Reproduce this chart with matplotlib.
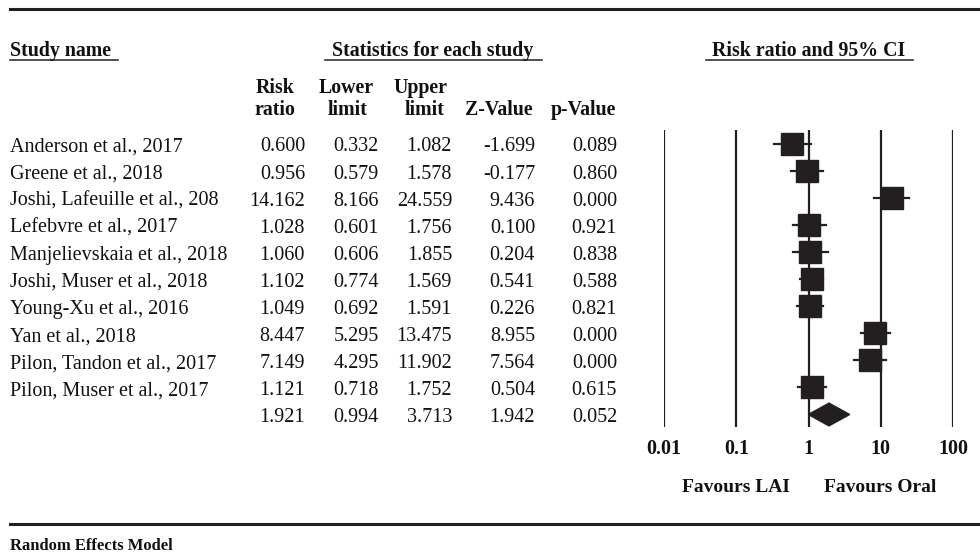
import numpy as np
import matplotlib
matplotlib.use("Agg")
import matplotlib.pyplot as plt
from matplotlib.patches import Polygon
from matplotlib.lines import Line2D

plt.rcParams['font.family'] = ['Liberation Serif', 'DejaVu Serif']

W, H = 980, 553
ink = '#231f20'

# Study data
studies = ["Anderson et al., 2017", "Greene et al., 2018", "Joshi, Lafeuille et al., 208",
           "Lefebvre et al., 2017", "Manjelievskaia et al., 2018", "Joshi, Muser et al., 2018",
           "Young-Xu et al., 2016", "Yan et al., 2018", "Pilon, Tandon et al., 2017",
           "Pilon, Muser et al., 2017"]
rr = [0.600, 0.956, 14.162, 1.028, 1.060, 1.102, 1.049, 8.447, 7.149, 1.121]
lower = [0.332, 0.579, 8.166, 0.601, 0.606, 0.774, 0.692, 5.295, 4.295, 0.718]
upper = [1.082, 1.578, 24.559, 1.756, 1.855, 1.569, 1.591, 13.475, 11.902, 1.752]
zval = [-1.699, -0.177, 9.436, 0.100, 0.204, 0.541, 0.226, 8.955, 7.564, 0.504]
pval = [0.089, 0.860, 0.000, 0.921, 0.838, 0.588, 0.821, 0.000, 0.000, 0.615]
box_size = [15.5, 15.5, 16, 15.5, 15.5, 15.5, 15.5, 15.5, 16, 15.5]

# pooled (random effects)
pooled = (1.921, 0.994, 3.713, 1.942, 0.052)

ticks = [0.01, 0.1, 1, 10, 100]
tick_labels = ["0.01", "0.1", "1", "10", "100"]

fig = plt.figure(figsize=(W / 100, H / 100), dpi=100)

def fx(x):
    return x / W

def fy(y):
    return 1 - y / H

def hline(x0, x1, y, lw):
    fig.add_artist(Line2D([fx(x0), fx(x1)], [fy(y), fy(y)], color=ink, lw=lw))

def txt(x, y, s, size, bold=False, ha='left'):
    fig.text(fx(x), fy(y), s, fontsize=size, fontweight='bold' if bold else 'normal',
             va='baseline', ha=ha, color='#111111')

# rules top / bottom
hline(10, 980, 9, 2.2)
hline(10, 980, 524, 2.2)

fs = 14.5
fb = 14.3
# header row
txt(10, 56, "Study name", fb, True)
hline(10, 118, 60, 1.1)
txt(433, 56, "Statistics for each study", fb, True, 'center')
hline(325, 542, 60, 1.1)
txt(809, 56, "Risk ratio and 95% CI", fb, True, 'center')
hline(706, 913, 60, 1.1)

# column headers
col_right = [305, 379, 452, 535, 617]
txt(275, 93, "Risk", fb, True, 'center')
txt(275, 115, "ratio", fb, True, 'center')
txt(346, 93, "Lower", fb, True, 'center')
txt(348, 115, "limit", fb, True, 'center')
txt(420, 93, "Upper", fb, True, 'center')
txt(425, 115, "limit", fb, True, 'center')
txt(499, 115, "Z-Value", fb, True, 'center')
txt(583, 115, "p-Value", fb, True, 'center')

row0, dy = 143.5, 27.1
for i, name in enumerate(studies):
    y = row0 + i * dy + 8
    txt(10, y, name, fs)
    vals = [rr[i], lower[i], upper[i], zval[i], pval[i]]
    for xr, v in zip(col_right, vals):
        txt(xr, y, f"{v:.3f}", fs, ha='right')
y = row0 + len(studies) * dy + 8
for xr, v in zip(col_right, pooled):
    txt(xr, y, f"{v:.3f}", fs, ha='right')

# forest plot axes
n = len(studies) + 1
top_px, bot_px = 130, 427
ax = fig.add_axes([fx(664), fy(bot_px), fx(953 - 664), (bot_px - top_px) / H])
ax.set_xscale('log')
ax.set_xlim(0.01, 100)
y_top = -(row0 - top_px) / dy
y_bot = y_top + (bot_px - top_px) / dy
ax.set_ylim(y_bot, y_top)
for s in ax.spines.values():
    s.set_visible(False)
for t in ticks:
    ax.axvline(t, color=ink, lw=1.6, zorder=1)

for i in range(len(studies)):
    ax.plot([lower[i], upper[i]], [i, i], color=ink, lw=1.6, zorder=2)
    ax.plot(rr[i], i, marker='s', ms=box_size[i], color=ink, mec=ink, zorder=3, clip_on=False)

est, lo, hi = pooled[0], pooled[1], pooled[2]
h = 0.42
ax.add_patch(Polygon([(lo, n - 1), (est, n - 1 - h), (hi, n - 1), (est, n - 1 + h)],
                     closed=True, color=ink, zorder=3))

ax.set_yticks([])
ax.set_xticks(ticks)
ax.set_xticklabels(tick_labels, fontsize=14.5, fontweight='bold', color='#111111')
ax.minorticks_off()
ax.tick_params(axis='x', length=0, pad=9)

txt(736, 492, "Favours LAI", 14, True, 'center')
txt(880, 492, "Favours Oral", 14, True, 'center')

txt(10, 550, "Random Effects Model", 12, True)

fig.savefig("out.png", dpi=100)
